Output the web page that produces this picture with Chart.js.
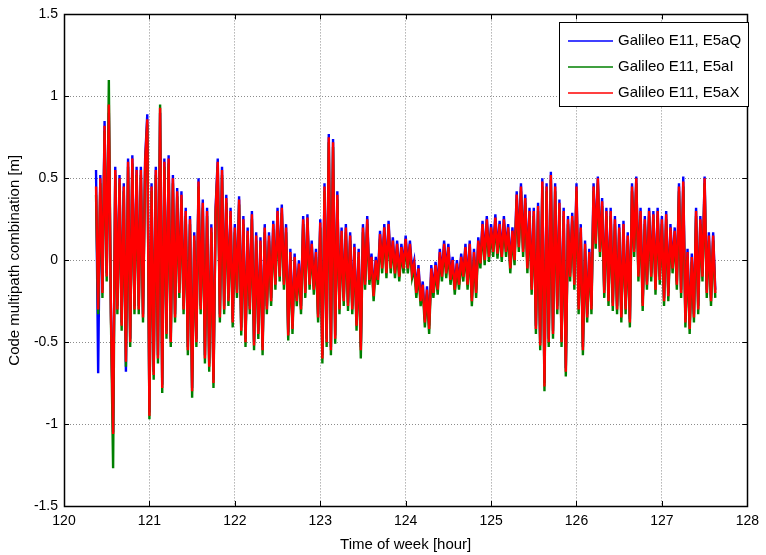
<!DOCTYPE html>
<html>
<head>
<meta charset="utf-8">
<script src="https://cdn.jsdelivr.net/npm/chart.js@4.4.1/dist/chart.umd.min.js"></script>
<style>
  html, body { margin: 0; padding: 0; background: #fff; }
</style>
</head>
<body>
<canvas id="graficoMultipath" width="766" height="555"></canvas>
<script>
// muestreo: cada 0.025 h desde 120.375 h
const tInicio = 120.375;
const tPaso = 0.025;

const etiquetas = ["Galileo E11, E5aQ", "Galileo E11, E5aI", "Galileo E11, E5aX"];
const colores = ["#0000ff", "#008000", "#ff0000"];

const ticksX = [120, 121, 122, 123, 124, 125, 126, 127, 128];
const ticksY = [-1.5, -1, -0.5, 0, 0.5, 1, 1.5];

// E5aQ (azul)
const mpQ = [
  0.55, -0.69, 0.52, -0.18, 0.85, -0.08, 0.9, -0.33, -1.05, 0.57, -0.28, 0.52, -0.38, 0.47, -0.68, 0.62, -0.48, 0.64, -0.28, 0.57,
  -0.28, 0.57, -0.33, 0.62, 0.89, -0.93, 0.47, -0.68, 0.57, -0.58, 0.9, -0.76, 0.62, -0.43, 0.64, -0.48, 0.52, -0.33, 0.44, -0.18,
  0.42, -0.28, 0.32, -0.53, 0.27, -0.78, 0.17, -0.48, 0.5, -0.28, 0.37, -0.58, 0.32, -0.63, 0.22, -0.73, 0.32, 0.62, -0.33, 0.57,
  -0.28, 0.4, -0.23, 0.32, -0.36, 0.22, -0.18, 0.39, -0.41, 0.27, -0.48, 0.2, -0.28, 0.3, -0.5, 0.17, -0.43, 0.14, -0.53, 0.22,
  -0.28, 0.17, -0.23, 0.24, -0.13, 0.32, -0.08, 0.34, -0.13, 0.22, -0.44, 0.07, -0.4, 0.04, -0.23, 0.0, -0.28, 0.27, -0.18, 0.28,
  -0.13, 0.12, -0.16, 0.07, -0.33, 0.25, -0.58, 0.47, -0.48, 0.77, -0.53, 0.74, -0.46, 0.42, -0.28, 0.2, -0.23, 0.22, -0.26, 0.17,
  -0.28, 0.1, -0.38, 0.07, -0.53, 0.22, -0.13, 0.27, -0.1, 0.04, -0.2, 0.02, -0.1, 0.18, -0.03, 0.22, -0.06, 0.24, -0.03, 0.14,
  -0.06, 0.12, -0.08, 0.1, -0.03, 0.15, -0.03, 0.12, -0.06, 0.0, -0.18, -0.03, -0.23, -0.13, -0.36, -0.16, -0.4, -0.03, -0.18, -0.01,
  -0.16, 0.07, -0.08, 0.12, -0.06, 0.1, -0.1, 0.02, -0.16, 0.0, -0.13, 0.04, -0.08, 0.1, -0.13, 0.12, -0.23, 0.07, -0.18, 0.14,
  0.0, 0.24, 0.02, 0.27, 0.04, 0.22, 0.07, 0.28, 0.06, 0.24, 0.04, 0.27, 0.07, 0.22, -0.03, 0.2, 0.02, 0.42, 0.1, 0.47,
  0.07, 0.4, -0.03, 0.32, -0.16, 0.32, -0.4, 0.35, -0.5, 0.5, -0.75, 0.47, -0.48, 0.54, -0.43, 0.47, -0.28, 0.37, -0.48, 0.32,
  -0.66, 0.27, -0.08, 0.29, -0.13, 0.47, -0.28, 0.22, -0.53, 0.12, -0.33, 0.07, -0.28, 0.47, 0.12, 0.51, 0.07, 0.38, -0.18, 0.32,
  -0.23, 0.32, -0.26, 0.27, -0.28, 0.22, -0.33, 0.24, -0.28, 0.17, -0.36, 0.47, 0.07, 0.51, -0.08, 0.32, -0.26, 0.27, -0.13, 0.32,
  -0.08, 0.3, -0.16, 0.32, -0.1, 0.27, -0.23, 0.3, -0.2, 0.22, -0.03, 0.2, -0.13, 0.47, -0.18, 0.51, -0.36, 0.07, -0.4, 0.04,
  -0.33, 0.32, -0.28, 0.27, -0.08, 0.51, -0.18, 0.17, -0.23, 0.17, -0.18
];

// E5aI (verde)
const mpI = [
  0.4, -0.33, 0.47, -0.23, 0.79, -0.13, 1.1, -0.38, -1.27, 0.52, -0.33, 0.47, -0.43, 0.42, -0.65, 0.57, -0.53, 0.59, -0.33, 0.52,
  -0.33, 0.52, -0.38, 0.57, 0.83, -0.97, 0.42, -0.73, 0.52, -0.63, 0.95, -0.81, 0.57, -0.48, 0.59, -0.53, 0.47, -0.38, 0.39, -0.23,
  0.37, -0.33, 0.27, -0.58, 0.22, -0.84, 0.12, -0.53, 0.45, -0.33, 0.32, -0.63, 0.27, -0.68, 0.17, -0.78, 0.27, 0.57, -0.38, 0.52,
  -0.33, 0.35, -0.28, 0.27, -0.41, 0.17, -0.23, 0.34, -0.46, 0.22, -0.53, 0.15, -0.33, 0.25, -0.55, 0.12, -0.48, 0.09, -0.58, 0.17,
  -0.33, 0.12, -0.28, 0.19, -0.18, 0.27, -0.13, 0.29, -0.18, 0.17, -0.49, 0.02, -0.45, -0.01, -0.28, -0.05, -0.33, 0.22, -0.23, 0.23,
  -0.18, 0.07, -0.21, 0.02, -0.38, 0.2, -0.63, 0.42, -0.53, 0.72, -0.58, 0.69, -0.51, 0.37, -0.33, 0.15, -0.28, 0.17, -0.31, 0.12,
  -0.33, 0.05, -0.43, 0.02, -0.6, 0.17, -0.18, 0.22, -0.15, -0.01, -0.25, -0.03, -0.15, 0.13, -0.08, 0.17, -0.11, 0.19, -0.08, 0.09,
  -0.11, 0.07, -0.13, 0.05, -0.08, 0.1, -0.08, 0.07, -0.11, -0.05, -0.23, -0.08, -0.28, -0.18, -0.41, -0.21, -0.45, -0.08, -0.23, -0.06,
  -0.21, 0.02, -0.13, 0.07, -0.11, 0.05, -0.15, -0.03, -0.21, -0.05, -0.18, -0.01, -0.13, 0.05, -0.18, 0.07, -0.28, 0.02, -0.23, 0.09,
  -0.05, 0.19, -0.03, 0.22, -0.01, 0.17, 0.02, 0.23, 0.01, 0.19, -0.01, 0.22, 0.02, 0.17, -0.08, 0.15, -0.03, 0.37, 0.05, 0.42,
  0.02, 0.35, -0.08, 0.27, -0.21, 0.27, -0.45, 0.3, -0.55, 0.45, -0.8, 0.42, -0.53, 0.49, -0.48, 0.42, -0.33, 0.32, -0.53, 0.27,
  -0.71, 0.22, -0.13, 0.24, -0.18, 0.42, -0.33, 0.17, -0.58, 0.07, -0.38, 0.02, -0.33, 0.42, 0.07, 0.47, 0.02, 0.33, -0.23, 0.27,
  -0.28, 0.27, -0.31, 0.22, -0.33, 0.17, -0.38, 0.19, -0.33, 0.12, -0.41, 0.42, 0.02, 0.47, -0.13, 0.27, -0.31, 0.22, -0.18, 0.27,
  -0.13, 0.25, -0.21, 0.27, -0.15, 0.22, -0.28, 0.25, -0.25, 0.17, -0.08, 0.15, -0.18, 0.42, -0.23, 0.45, -0.41, 0.02, -0.45, -0.01,
  -0.38, 0.27, -0.33, 0.22, -0.13, 0.47, -0.23, 0.12, -0.28, 0.12, -0.23
];

// E5aX (rojo)
const mpX = [
  0.45, -0.3, 0.5, -0.2, 0.82, -0.1, 0.95, -0.35, -1.06, 0.55, -0.3, 0.5, -0.4, 0.45, -0.62, 0.6, -0.5, 0.62, -0.3, 0.55,
  -0.3, 0.55, -0.35, 0.6, 0.86, -0.95, 0.45, -0.7, 0.55, -0.6, 0.93, -0.78, 0.6, -0.45, 0.62, -0.5, 0.5, -0.35, 0.42, -0.2,
  0.4, -0.3, 0.3, -0.55, 0.25, -0.8, 0.15, -0.5, 0.48, -0.3, 0.35, -0.6, 0.3, -0.65, 0.2, -0.75, 0.3, 0.6, -0.35, 0.55,
  -0.3, 0.38, -0.25, 0.3, -0.38, 0.2, -0.2, 0.37, -0.43, 0.25, -0.5, 0.18, -0.3, 0.28, -0.52, 0.15, -0.45, 0.12, -0.55, 0.2,
  -0.3, 0.15, -0.25, 0.22, -0.15, 0.3, -0.1, 0.32, -0.15, 0.2, -0.46, 0.05, -0.42, 0.02, -0.25, -0.02, -0.3, 0.25, -0.2, 0.26,
  -0.15, 0.1, -0.18, 0.05, -0.35, 0.23, -0.6, 0.45, -0.5, 0.75, -0.55, 0.72, -0.48, 0.4, -0.3, 0.18, -0.25, 0.2, -0.28, 0.15,
  -0.3, 0.08, -0.4, 0.05, -0.55, 0.2, -0.15, 0.25, -0.12, 0.02, -0.22, 0.0, -0.12, 0.16, -0.05, 0.2, -0.08, 0.22, -0.05, 0.12,
  -0.08, 0.1, -0.1, 0.08, -0.05, 0.13, -0.05, 0.1, -0.08, -0.02, -0.2, -0.05, -0.25, -0.15, -0.38, -0.18, -0.42, -0.05, -0.2, -0.03,
  -0.18, 0.05, -0.1, 0.1, -0.08, 0.08, -0.12, 0.0, -0.18, -0.02, -0.15, 0.02, -0.1, 0.08, -0.15, 0.1, -0.25, 0.05, -0.2, 0.12,
  -0.02, 0.22, 0.0, 0.25, 0.02, 0.2, 0.05, 0.26, 0.04, 0.22, 0.02, 0.25, 0.05, 0.2, -0.05, 0.18, 0.0, 0.4, 0.08, 0.45,
  0.05, 0.38, -0.05, 0.3, -0.18, 0.3, -0.42, 0.33, -0.52, 0.48, -0.77, 0.45, -0.5, 0.52, -0.45, 0.45, -0.3, 0.35, -0.5, 0.3,
  -0.68, 0.25, -0.1, 0.27, -0.15, 0.45, -0.3, 0.2, -0.55, 0.1, -0.35, 0.05, -0.3, 0.45, 0.1, 0.5, 0.05, 0.36, -0.2, 0.3,
  -0.25, 0.3, -0.28, 0.25, -0.3, 0.2, -0.35, 0.22, -0.3, 0.15, -0.38, 0.45, 0.05, 0.5, -0.1, 0.3, -0.28, 0.25, -0.15, 0.3,
  -0.1, 0.28, -0.18, 0.3, -0.12, 0.25, -0.25, 0.28, -0.22, 0.2, -0.05, 0.18, -0.15, 0.45, -0.2, 0.48, -0.38, 0.05, -0.42, 0.02,
  -0.35, 0.3, -0.3, 0.25, -0.1, 0.5, -0.2, 0.15, -0.25, 0.15, -0.2
];

const tiempos = mpX.map((_, i) => +(tInicio + i * tPaso).toFixed(3));
const series = [mpQ, mpI, mpX];

const FUENTE = "Liberation Sans, Arial, sans-serif";

// marco negro y marcas hacia dentro, estilo MATLAB
const marco = {
  id: "marco",
  afterDatasetsDraw(chart) {
    const { ctx, chartArea: a, scales } = chart;
    const largo = 5;
    ctx.save();
    ctx.strokeStyle = "#000";
    ctx.lineWidth = 1;
    ctx.beginPath();
    ticksX.forEach(v => {
      const px = Math.round(scales.x.getPixelForValue(v)) + 0.5;
      ctx.moveTo(px, a.bottom); ctx.lineTo(px, a.bottom - largo);
      ctx.moveTo(px, a.top); ctx.lineTo(px, a.top + largo);
    });
    ticksY.forEach(v => {
      const py = Math.round(scales.y.getPixelForValue(v)) + 0.5;
      ctx.moveTo(a.left, py); ctx.lineTo(a.left + largo, py);
      ctx.moveTo(a.right, py); ctx.lineTo(a.right - largo, py);
    });
    ctx.stroke();
    ctx.lineWidth = 1.5;
    ctx.strokeRect(Math.round(a.left) + 0.5, Math.round(a.top) + 0.5, Math.round(a.width), Math.round(a.height));
    ctx.restore();
  }
};

// leyenda en la esquina superior derecha
const leyenda = {
  id: "leyenda",
  afterDraw(chart) {
    const { ctx } = chart;
    const x0 = 559, y0 = 22, ancho = 189, alto = 84;
    ctx.save();
    ctx.fillStyle = "#fff";
    ctx.fillRect(x0, y0, ancho, alto);
    ctx.strokeStyle = "#000";
    ctx.lineWidth = 1;
    ctx.strokeRect(x0 + 0.5, y0 + 0.5, ancho, alto);
    ctx.font = "15px " + FUENTE;
    ctx.textBaseline = "middle";
    etiquetas.forEach((txt, i) => {
      const y = y0 + 19 + i * 26;
      ctx.strokeStyle = colores[i];
      ctx.lineWidth = 1.5;
      ctx.beginPath();
      ctx.moveTo(568, y);
      ctx.lineTo(613, y);
      ctx.stroke();
      ctx.fillStyle = "#000";
      ctx.fillText(txt, 618, y);
    });
    ctx.restore();
  }
};

new Chart(document.getElementById("graficoMultipath"), {
  type: "line",
  data: {
    datasets: series.map((vals, k) => ({
      label: etiquetas[k],
      data: tiempos.map((t, i) => ({ x: t, y: vals[i] })),
      borderColor: colores[k],
      borderWidth: 2.4,
      borderJoinStyle: "miter",
      pointRadius: 0,
      tension: 0,
      fill: false,
      order: 2 - k
    }))
  },
  options: {
    responsive: false,
    animation: false,
    devicePixelRatio: 1,
    layout: { padding: { top: 13, right: 11, left: 0, bottom: 0 } },
    plugins: {
      legend: { display: false },
      tooltip: { enabled: false }
    },
    scales: {
      x: {
        type: "linear",
        min: 120,
        max: 128,
        afterBuildTicks: (scale) => { scale.ticks = ticksX.map(v => ({ value: v })); },
        afterFit: (scale) => { scale.height = 49; },
        ticks: { color: "#000", font: { family: FUENTE, size: 14 }, padding: 7, maxRotation: 0 },
        grid: { color: "#8c8c8c", lineWidth: 1, drawTicks: false },
        border: { display: false, dash: [1, 2] },
        title: {
          display: true,
          text: "Time of week [hour]",
          color: "#000",
          font: { family: FUENTE, size: 15 },
          padding: { top: 0, bottom: 1 }
        }
      },
      y: {
        type: "linear",
        min: -1.5,
        max: 1.5,
        afterBuildTicks: (scale) => { scale.ticks = ticksY.map(v => ({ value: v })); },
        afterFit: (scale) => { scale.width = 64; },
        ticks: {
          color: "#000",
          font: { family: FUENTE, size: 14 },
          padding: 6,
          callback: (v) => String(v)
        },
        grid: { color: "#8c8c8c", lineWidth: 1, drawTicks: false },
        border: { display: false, dash: [1, 2] },
        title: {
          display: true,
          text: "Code multipath combination [m]",
          color: "#000",
          font: { family: FUENTE, size: 15 },
          padding: { top: 6, bottom: 0 }
        }
      }
    }
  },
  plugins: [marco, leyenda]
});
</script>
</body>
</html>
